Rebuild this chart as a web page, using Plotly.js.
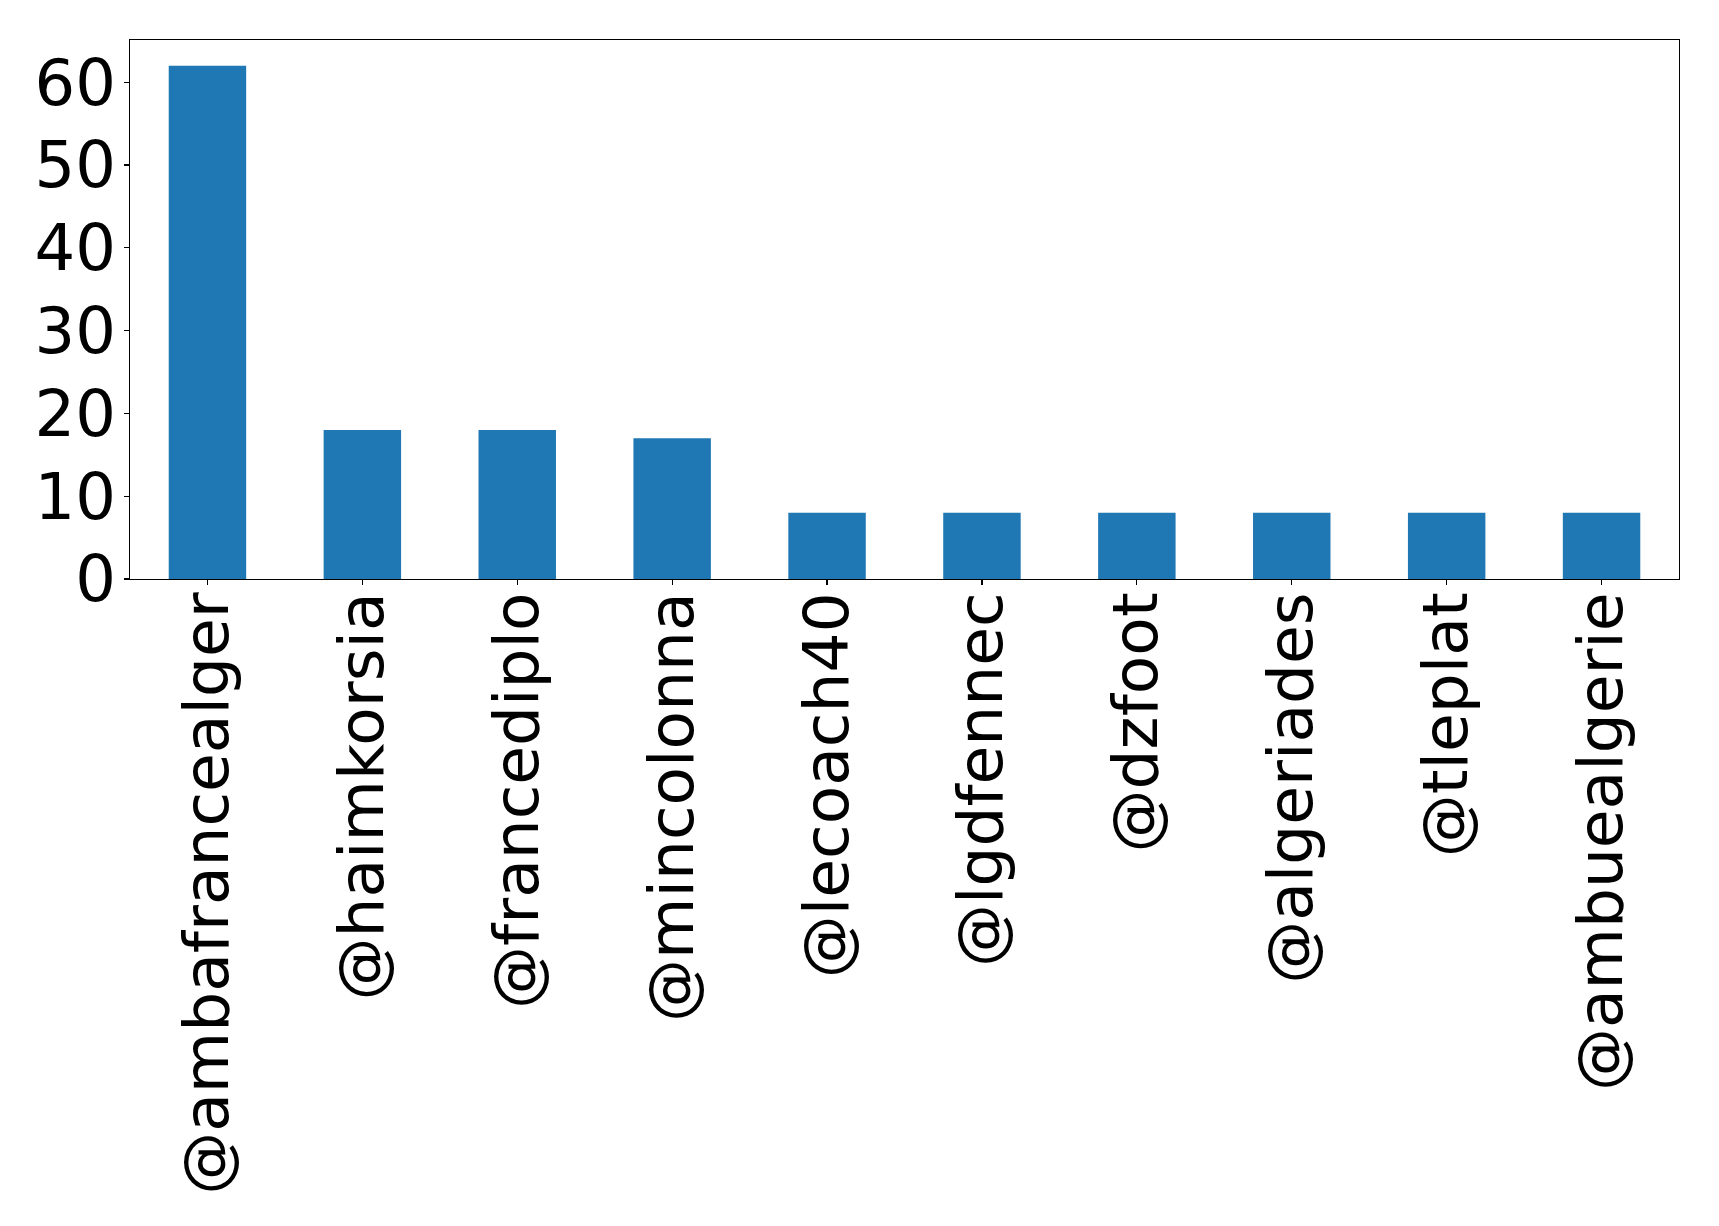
<!DOCTYPE html>
<html>
<head>
<meta charset="utf-8">
<script src="https://cdn.plot.ly/plotly-3.0.1.min.js"></script>
<style>html,body{margin:0;padding:0;background:#fff;}#chart{width:1719px;height:1226px;}</style>
</head>
<body>
<div id="chart"></div>
<script>
const accounts = ["@ambafrancealger", "@haimkorsia", "@francediplo", "@mincolonna", "@lecoach40", "@lgdfennec", "@dzfoot", "@algeriades", "@tleplat", "@ambuealgerie"];
const counts = [62, 18, 18, 17, 8, 8, 8, 8, 8, 8];
const yTicks = [0, 10, 20, 30, 40, 50, 60];

const trace = {
  type: "bar",
  x: accounts,
  y: counts,
  width: 0.5,
  marker: {color: "#1f77b4", line: {width: 0}},
  hoverinfo: "x+y"
};

const layout = {
  width: 1719,
  height: 1226,
  margin: {l: 130, r: 40, t: 40, b: 647, pad: 0},
  paper_bgcolor: "#ffffff",
  plot_bgcolor: "#ffffff",
  showlegend: false,
  font: {family: "DejaVu Sans", color: "#000000", size: 64},
  xaxis: {
    type: "category",
    range: [-0.5, 9.5],
    tickangle: -90,
    ticks: "outside",
    ticklen: 5,
    tickwidth: 1.2,
    tickcolor: "#000",
    ticklabelstandoff: -18,
    showline: true,
    linecolor: "#000",
    linewidth: 1.2,
    mirror: true,
    showgrid: false,
    zeroline: false,
    tickfont: {family: "DejaVu Sans", size: 63, color: "#000"}
  },
  yaxis: {
    range: [0, 65.1],
    tickvals: yTicks,
    ticktext: yTicks.map(String),
    ticks: "outside",
    ticklen: 5,
    tickwidth: 1.2,
    tickcolor: "#000",
    ticklabelstandoff: -5,
    showline: true,
    linecolor: "#000",
    linewidth: 1.2,
    mirror: true,
    showgrid: false,
    zeroline: false,
    tickfont: {family: "DejaVu Sans", size: 64, color: "#000"}
  }
};

Plotly.newPlot("chart", [trace], layout, {staticPlot: true, displayModeBar: false});
</script>
</body>
</html>
